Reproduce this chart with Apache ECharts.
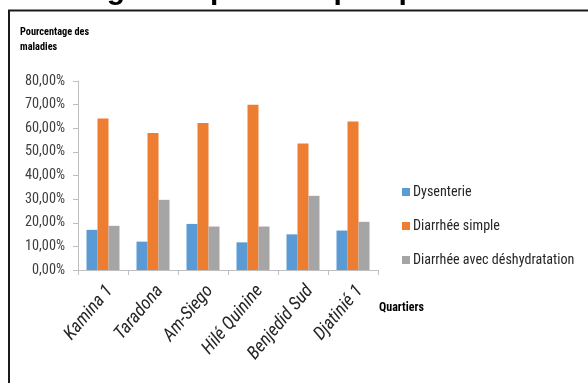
<!DOCTYPE html>
<html>
<head>
<meta charset="utf-8">
<script src="https://cdn.jsdelivr.net/npm/echarts@6/dist/echarts.min.js"></script>
<style>
  html, body { margin: 0; padding: 0; background: #fff; }
  #chart { width: 588px; height: 383px; }
</style>
</head>
<body>
<div id="chart"></div>
<script>
// Quartiers and the share of each disease (in %)
const quartiers = ['Kamina 1', 'Taradona', 'Am-Siego', 'Hilé Quinine', 'Benjedid Sud', 'Djatinié 1'];
const dysenterie = [17.0, 12.0, 19.5, 11.7, 15.1, 16.7];
const diarrheeSimple = [64.1, 58.0, 62.2, 70.0, 53.5, 62.9];
const diarrheeDeshydratation = [18.7, 29.7, 18.4, 18.4, 31.4, 20.4];
const seriesNames = ['Dysenterie', 'Diarrhée simple', 'Diarrhée avec déshydratation'];
const yTicks = { min: 0, max: 80, step: 10 };

// --- font helpers: pick the narrowest installed sans family ---
const ctx = document.createElement('canvas').getContext('2d');
function textWidth(font, s) { ctx.font = font; return ctx.measureText(s).width; }
function installed(name) {
  const probe = 'mmmmmwwwiiilll 0123';
  return ['monospace', 'serif'].some(base =>
    textWidth(`40px ${base}`, probe) !== textWidth(`40px '${name}', ${base}`, probe));
}
const candidates = ['Liberation Sans Narrow', 'Arial Narrow', 'DejaVu Sans Condensed', 'Roboto Condensed',
  'Open Sans Condensed', 'Noto Sans Condensed', 'Roboto', 'Lato', 'Liberation Sans', 'Noto Sans', 'Inter'];
const legendSample = 'Diarrhée avec déshydratation';
let family = 'sans-serif', best = Infinity;
candidates.filter(installed).forEach(f => {
  const w = textWidth(`14px '${f}'`, legendSample);
  if (w < best) { best = w; family = `'${f}'`; }
});
const fam = family + ', sans-serif';
// sizes chosen so that key strings take their intended widths
const fitSize = (base, weight, s, target) => +(base * target / textWidth(`${weight} ${base}px ${fam}`, s)).toFixed(1);
const legendSize = fitSize(14, 'normal', legendSample, 162);
const yLabelSize = fitSize(14, 'normal', '80,00%', 40);
const yTitleSize = fitSize(11, 'bold', 'Pourcentage des', 69);
const xTitleSize = fitSize(12, 'bold', 'Quartiers', 45);
const xLabelSize = fitSize(14, 'italic normal', 'Hilé Quinine', 84);

const labelColor = '#404040';
const axisColor = '#BFBFBF';

const chart = echarts.init(document.getElementById('chart'), null, { renderer: 'canvas' });

const bar = (name, data, color) => ({
  name, type: 'bar', data,
  barGap: '0%', barCategoryGap: '34%',
  itemStyle: { color },
  emphasis: { disabled: true }
});

chart.setOption({
  animation: false,
  grid: { left: 78, right: 210, top: 81, bottom: 113, containLabel: false },
  xAxis: {
    type: 'category',
    data: quartiers,
    axisLine: { lineStyle: { color: axisColor, width: 1 } },
    axisTick: { show: true, alignWithLabel: false, length: 5, lineStyle: { color: axisColor } },
    axisLabel: {
      rotate: 50, margin: 12, fontSize: xLabelSize, fontStyle: 'italic',
      verticalAlign: 'top', color: '#262626', fontFamily: fam, interval: 0
    }
  },
  yAxis: {
    type: 'value',
    min: yTicks.min, max: yTicks.max, interval: yTicks.step,
    axisLine: { show: true, lineStyle: { color: axisColor, width: 1 } },
    axisTick: { show: true, length: 5, lineStyle: { color: axisColor } },
    splitLine: { show: false },
    axisLabel: {
      margin: 13, fontSize: yLabelSize, color: labelColor, fontFamily: fam,
      formatter: v => v.toFixed(2).replace('.', ',') + '%'
    }
  },
  legend: {
    orient: 'vertical',
    left: 397, top: 180,
    itemWidth: 8, itemHeight: 8, itemGap: 20,
    icon: 'rect',
    textStyle: { fontSize: legendSize, color: '#262626', fontFamily: fam, padding: [0, 0, 0, -2] },
    data: seriesNames
  },
  series: [
    bar(seriesNames[0], dysenterie, '#5B9BD5'),
    bar(seriesNames[1], diarrheeSimple, '#ED7D31'),
    bar(seriesNames[2], diarrheeDeshydratation, '#A5A5A5')
  ],
  graphic: [
    {
      type: 'text', left: -40, top: -24, silent: true,
      style: { text: 'Pourcentage des patients par quartier', font: "bold 30px 'Liberation Sans', Arial, sans-serif", fill: '#000' }
    },
    {
      type: 'rect', silent: true,
      shape: { x: 9, y: 10.5, width: 600, height: 400 },
      style: { fill: 'none', stroke: '#1a1a1a', lineWidth: 2 }
    },
    {
      type: 'text', left: 20, top: 25, silent: true,
      style: { text: 'Pourcentage des\nmaladies', font: `bold ${yTitleSize}px ${fam}`, lineHeight: 15, fill: '#000' }
    },
    {
      type: 'text', left: 379, top: 302, silent: true,
      style: { text: 'Quartiers', font: `bold ${xTitleSize}px ${fam}`, fill: '#000' }
    }
  ]
});
</script>
</body>
</html>
